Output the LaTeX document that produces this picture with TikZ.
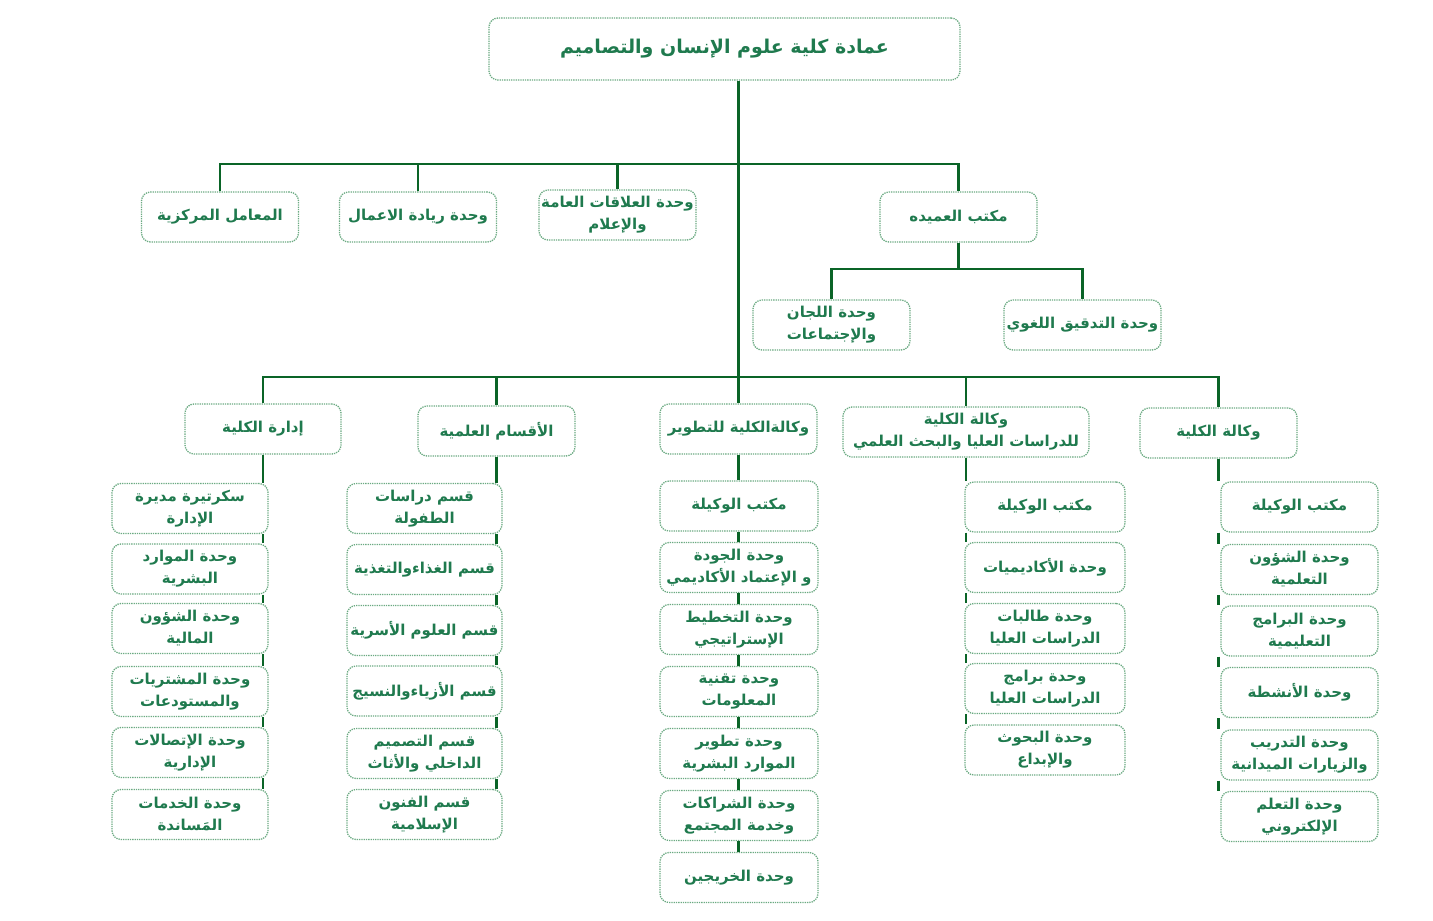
\documentclass[tikz,border=0pt]{standalone}
\usepackage{fontspec}
\newfontfamily\arabicfont[Script=Arabic]{DejaVu Sans}
\TeXXeTstate=1
\newcommand{\artext}[1]{\beginR #1\endR}
\definecolor{linegreen}{HTML}{0A6427}
\definecolor{txtgreen}{HTML}{1F7A4E}
\definecolor{boxgreen}{HTML}{6BAA82}

\begin{document}
\begin{tikzpicture}[x=1pt,y=-1pt,
	unit/.style={draw=boxgreen,densely dotted,line width=1.3pt,rounded corners=9pt,fill=white,text=txtgreen,align=center,minimum width=157pt,minimum height=50pt,inner sep=1pt,font=\arabicfont\bfseries\fontsize{15}{22}\selectfont},
	bus/.style={draw=linegreen,line width=2.7pt}]
	\useasboundingbox (0,0) rectangle (1433,921);
	%DEANSHIP
	\node[unit,minimum width=471pt,minimum height=62pt,font=\arabicfont\bfseries\fontsize{19}{24}\selectfont] (dean) at (724.5,49) {\artext{عمادة كلية علوم الإنسان والتصاميم}};
	%FIRST ROW
	\node[unit] (lab) at (220,217) {\artext{المعامل المركزية}};
	\node[unit] (entre) at (418,217) {\artext{وحدة ريادة الاعمال}};
	\node[unit] (media) at (617.5,215) {\artext{وحدة العلاقات العامة}\\\artext{والإعلام}};
	\node[unit] (office) at (958.5,217) {\artext{مكتب العميده}};
	\node[unit] (comm) at (831.5,325) {\artext{وحدة اللجان}\\\artext{والإجتماعات}};
	\node[unit] (lang) at (1082.5,325) {\artext{وحدة التدقيق اللغوي}};
	%HEADS
	\node[unit,minimum width=156pt] (admin) at (263,429) {\artext{إدارة الكلية}};
	\node[unit] (dept) at (496.5,431) {\artext{الأقسام العلمية}};
	\node[unit] (dev) at (738.5,429) {\artext{وكالةالكلية للتطوير}};
	\node[unit,minimum width=246pt] (grad) at (966,432) {\artext{وكالة الكلية}\\\artext{للدراسات العليا والبحث العلمي}};
	\node[unit] (vice) at (1218.5,433) {\artext{وكالة الكلية}};
	%ADMINISTRATION
	\node[unit,minimum width=156pt] (ad1) at (190,508.5) {\artext{سكرتيرة مديرة}\\\artext{الإدارة}};
	\node[unit,minimum width=156pt] (ad2) at (190,569) {\artext{وحدة الموارد}\\\artext{البشرية}};
	\node[unit,minimum width=156pt] (ad3) at (190,628.5) {\artext{وحدة الشؤون}\\\artext{المالية}};
	\node[unit,minimum width=156pt] (ad4) at (190,691.5) {\artext{وحدة المشتريات}\\\artext{والمستودعات}};
	\node[unit,minimum width=156pt] (ad5) at (190,752.5) {\artext{وحدة الإتصالات}\\\artext{الإدارية}};
	\node[unit,minimum width=156pt] (ad6) at (190,814.5) {\artext{وحدة الخدمات}\\\artext{المَساندة}};
	%DEPARTMENTS
	\node[unit,minimum width=155pt] (de1) at (424.5,508.5) {\artext{قسم دراسات}\\\artext{الطفولة}};
	\node[unit,minimum width=155pt] (de2) at (424.5,569.5) {\artext{قسم الغذاءوالتغذية}};
	\node[unit,minimum width=155pt] (de3) at (424.5,630.5) {\artext{قسم العلوم الأسرية}};
	\node[unit,minimum width=155pt] (de4) at (424.5,691) {\artext{قسم الأزياءوالنسيج}};
	\node[unit,minimum width=155pt] (de5) at (424.5,753.5) {\artext{قسم التصميم}\\\artext{الداخلي والأثاث}};
	\node[unit,minimum width=155pt] (de6) at (424.5,814.5) {\artext{قسم الفنون}\\\artext{الإسلامية}};
	%DEVELOPMENT
	\node[unit,minimum width=158pt] (dv1) at (739,506) {\artext{مكتب الوكيلة}};
	\node[unit,minimum width=158pt] (dv2) at (739,567.5) {\artext{وحدة الجودة}\\\artext{و الإعتماد الأكاديمي}};
	\node[unit,minimum width=158pt] (dv3) at (739,629.5) {\artext{وحدة التخطيط}\\\artext{الإستراتيجي}};
	\node[unit,minimum width=158pt] (dv4) at (739,691.5) {\artext{وحدة تقنية}\\\artext{المعلومات}};
	\node[unit,minimum width=158pt] (dv5) at (739,753.5) {\artext{وحدة تطوير}\\\artext{الموارد البشرية}};
	\node[unit,minimum width=158pt] (dv6) at (739,815.5) {\artext{وحدة الشراكات}\\\artext{وخدمة المجتمع}};
	\node[unit,minimum width=158pt] (dv7) at (739,877.5) {\artext{وحدة الخريجين}};
	%GRADUATE STUDIES
	\node[unit,minimum width=160pt] (gr1) at (1045,507) {\artext{مكتب الوكيلة}};
	\node[unit,minimum width=160pt] (gr2) at (1045,567.5) {\artext{وحدة الأكاديميات}};
	\node[unit,minimum width=160pt] (gr3) at (1045,628.5) {\artext{وحدة طالبات}\\\artext{الدراسات العليا}};
	\node[unit,minimum width=160pt] (gr4) at (1045,688.5) {\artext{وحدة برامج}\\\artext{الدراسات العليا}};
	\node[unit,minimum width=160pt] (gr5) at (1045,750) {\artext{وحدة البحوث}\\\artext{والإبداع}};
	%VICE DEANSHIP
	\node[unit] (vi1) at (1299.5,507) {\artext{مكتب الوكيلة}};
	\node[unit] (vi2) at (1299.5,569.5) {\artext{وحدة الشؤون}\\\artext{التعلمية}};
	\node[unit] (vi3) at (1299.5,631) {\artext{وحدة البرامج}\\\artext{التعليمية}};
	\node[unit] (vi4) at (1299.5,692.5) {\artext{وحدة الأنشطة}};
	\node[unit] (vi5) at (1299.5,755) {\artext{وحدة التدريب}\\\artext{والزيارات الميدانية}};
	\node[unit] (vi6) at (1299.5,816.5) {\artext{وحدة التعلم}\\\artext{الإلكتروني}};
	%CONNECTORS
	\coordinate (trunk) at (dean.south -| dev);
	\coordinate (busA) at (738.5,164);
	\coordinate (busB) at (958.5,269);
	\coordinate (busC) at (738.5,377);
	\draw[bus] (trunk) -- (dev.north);
	\draw[bus] (lab.north) |- (busA) -| (office.north);
	\draw[bus] (entre.north) -- (entre |- busA);
	\draw[bus] (media.north) -- (media |- busA);
	\draw[bus] (office.south) -- (busB);
	\draw[bus] (comm.north) |- (busB) -| (lang.north);
	\draw[bus] (admin.north) |- (busC) -| (vice.north);
	\draw[bus] (dept.north) -- (dept |- busC);
	\draw[bus] (grad.north) -- (grad |- busC);
	\foreach \a/\b in {admin/ad1,ad1/ad2,ad2/ad3,ad3/ad4,ad4/ad5,ad5/ad6}
		\draw[bus] (\a.south -| admin) -- (\b.north -| admin);
	\foreach \a/\b in {dept/de1,de1/de2,de2/de3,de3/de4,de4/de5,de5/de6}
		\draw[bus] (\a.south -| dept) -- (\b.north -| dept);
	\foreach \a/\b in {dev/dv1,dv1/dv2,dv2/dv3,dv3/dv4,dv4/dv5,dv5/dv6,dv6/dv7}
		\draw[bus] (\a.south -| dev) -- (\b.north -| dev);
	\foreach \a/\b in {grad/gr1,gr1/gr2,gr2/gr3,gr3/gr4,gr4/gr5}
		\draw[bus] (\a.south -| grad) -- (\b.north -| grad);
	\foreach \a/\b in {vice/vi1,vi1/vi2,vi2/vi3,vi3/vi4,vi4/vi5,vi5/vi6}
		\draw[bus] (\a.south -| vice) -- (\b.north -| vice);
\end{tikzpicture}
\end{document}
